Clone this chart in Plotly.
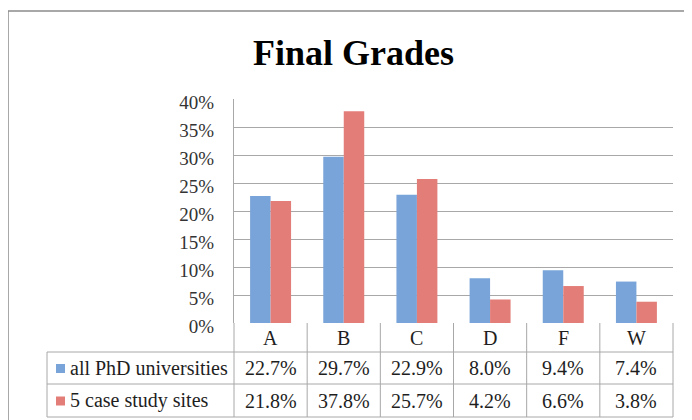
import plotly.graph_objects as go

# ---- data ----
categories = ["A", "B", "C", "D", "F", "W"]
series_names = ["all PhD universities", "5 case study sites"]
phd_values = [22.7, 29.7, 22.9, 8.0, 9.4, 7.4]
case_values = [21.8, 37.8, 25.7, 4.2, 6.6, 3.8]
y_ticks = [0, 5, 10, 15, 20, 25, 30, 35, 40]
y_tick_labels = [f"{v}%" for v in y_ticks]
title_text = "Final Grades"

# ---- styling ----
OFF = 8                      # page body margin: page px -> figure px
W, H = 692 - OFF, 420 - OFF
PL, PR, PT, PB = 234, 673, 99, 323   # plot area in page pixels
BLUE = "#79a4d9"
RED = "#e37d78"
GRID = "#a8a8a8"
TABLE = "#a8a8a8"
FONT = "Liberation Serif"
TXT = "#1e1e1e"


def px_x(px):
    return (px - PL) / (PR - PL)


def px_y(py):
    return (PB - py) / (PB - PT)


fig = go.Figure()
fig.add_trace(go.Bar(x=categories, y=phd_values, name=series_names[0],
                     marker=dict(color=BLUE, line=dict(width=0))))
fig.add_trace(go.Bar(x=categories, y=case_values, name=series_names[1],
                     marker=dict(color=RED, line=dict(width=0))))

shapes = []
annotations = []

# outer chart border (extends beyond the window on right / bottom)
shapes.append(dict(type="rect", xref="paper", yref="paper",
                   x0=px_x(8), x1=px_x(720), y0=px_y(450), y1=px_y(11),
                   line=dict(color="#8c8c8c", width=1.5), fillcolor="rgba(0,0,0,0)"))

# data table lines
row_tops = [352, 384, 417]
for py in row_tops:
    shapes.append(dict(type="line", xref="paper", yref="paper",
                       x0=px_x(47), x1=px_x(PR), y0=px_y(py), y1=px_y(py),
                       line=dict(color=TABLE, width=1)))
shapes.append(dict(type="line", xref="paper", yref="paper",
                   x0=px_x(47), x1=px_x(47), y0=px_y(352), y1=px_y(417),
                   line=dict(color=TABLE, width=1)))
n = len(categories)
for i in range(n + 1):
    xp = i / n
    shapes.append(dict(type="line", xref="paper", yref="paper",
                       x0=xp, x1=xp, y0=px_y(PB), y1=px_y(417),
                       line=dict(color=TABLE, width=1)))

# legend keys inside the table
for py_c, col in [(368, BLUE), (400.5, RED)]:
    shapes.append(dict(type="rect", xref="paper", yref="paper",
                       x0=px_x(56), x1=px_x(65), y0=px_y(py_c + 5), y1=px_y(py_c - 4),
                       line=dict(width=0), fillcolor=col))

# category labels
for c in categories:
    annotations.append(dict(x=c, y=px_y(338), xref="x", yref="paper", text=c,
                            showarrow=False, xanchor="center", yanchor="middle",
                            font=dict(family=FONT, size=20, color=TXT)))

# table row labels and values
for py_c, name, vals in [(368, series_names[0], phd_values),
                         (400.5, series_names[1], case_values)]:
    annotations.append(dict(x=px_x(68), y=px_y(py_c), xref="paper", yref="paper",
                            text=name, showarrow=False, xanchor="left", yanchor="middle",
                            font=dict(family=FONT, size=20, color=TXT)))
    for c, v in zip(categories, vals):
        annotations.append(dict(x=c, y=px_y(py_c), xref="x", yref="paper",
                                text=f"{v:.1f}%", showarrow=False,
                                xanchor="center", yanchor="middle",
                                font=dict(family=FONT, size=20, color=TXT)))

fig.update_layout(
    width=W, height=H,
    margin=dict(l=PL - OFF, r=W - (PR - OFF), t=PT - OFF, b=H - (PB - OFF), pad=0),
    paper_bgcolor="white", plot_bgcolor="white",
    barmode="group", bargap=0.44, bargroupgap=0.0,
    showlegend=False,
    title=dict(text=f"<b>{title_text}</b>", x=(353.5 - OFF) / W, xref="container",
               y=(H - (52 - OFF)) / H, yref="container", xanchor="center", yanchor="middle",
               font=dict(family=FONT, size=36, color="#000000")),
    shapes=shapes,
    annotations=annotations,
    xaxis=dict(showticklabels=False, ticks="", showgrid=False, zeroline=False,
               showline=False, range=[-0.5, n - 0.5], fixedrange=True),
    yaxis=dict(range=[0, 40], tickvals=y_ticks, ticktext=y_tick_labels,
               showgrid=True, gridcolor=GRID, gridwidth=1,
               zeroline=False, showline=True, linecolor=GRID, linewidth=1,
               ticks="", ticklabelstandoff=15, ticklabelshift=3,
               tickfont=dict(family=FONT, size=19, color="#333333"), fixedrange=True),
)

fig.write_html("out.html")
